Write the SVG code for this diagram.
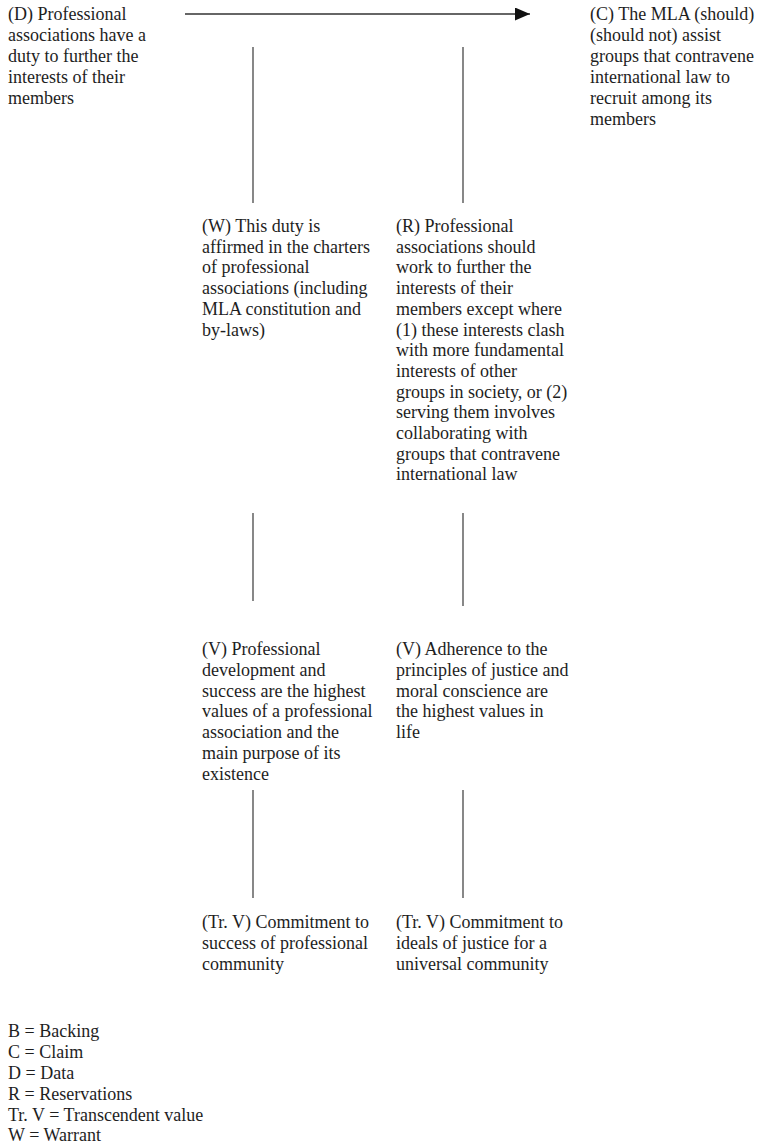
<svg xmlns="http://www.w3.org/2000/svg" width="760" height="1143" viewBox="0 0 760 1143">
<style>
text{font-family:"Liberation Serif","Times New Roman",serif;font-size:18px;fill:#1e1e1e}
.c{stroke:#6a6a6a;stroke-width:1.6;fill:none}
.a{stroke:#333;stroke-width:1.6;fill:none}
</style>
<defs>
<marker id="ah" markerWidth="16" markerHeight="13" refX="15" refY="6.5" orient="auto" markerUnits="userSpaceOnUse">
<path d="M0,0 L15,6.5 L0,13 Z" fill="#111"/>
</marker>
</defs>
<rect width="760" height="1143" fill="#fff"/>
<g id="connectors">
<line class="a" x1="185" y1="14" x2="530" y2="14" marker-end="url(#ah)"/>
<line class="c" x1="253" y1="47" x2="253" y2="203"/>
<line class="c" x1="463" y1="47" x2="463" y2="203"/>
<line class="c" x1="253" y1="513" x2="253" y2="601"/>
<line class="c" x1="463" y1="513" x2="463" y2="606"/>
<line class="c" x1="253" y1="790" x2="253" y2="898"/>
<line class="c" x1="463" y1="790" x2="463" y2="898"/>
</g>
<g id="D">
<text x="8" y="19.5">(D) Professional</text>
<text x="8" y="40.5">associations have a</text>
<text x="8" y="61.5">duty to further the</text>
<text x="8" y="82.5">interests of their</text>
<text x="8" y="103.5">members</text>
</g>
<g id="C">
<text x="590" y="19.5">(C) The MLA (should)</text>
<text x="590" y="40.5">(should not) assist</text>
<text x="590" y="61.5">groups that contravene</text>
<text x="590" y="82.5">international law to</text>
<text x="590" y="103.5">recruit among its</text>
<text x="590" y="124.5">members</text>
</g>
<g id="W">
<text x="202" y="232">(W) This duty is</text>
<text x="202" y="252.7">affirmed in the charters</text>
<text x="202" y="273.4">of professional</text>
<text x="202" y="294.1">associations (including</text>
<text x="202" y="314.8">MLA constitution and</text>
<text x="202" y="335.5">by-laws)</text>
</g>
<g id="R">
<text x="396" y="232">(R) Professional</text>
<text x="396" y="252.7">associations should</text>
<text x="396" y="273.4">work to further the</text>
<text x="396" y="294.1">interests of their</text>
<text x="396" y="314.8">members except where</text>
<text x="396" y="335.5">(1) these interests clash</text>
<text x="396" y="356.2">with more fundamental</text>
<text x="396" y="376.9">interests of other</text>
<text x="396" y="397.6">groups in society, or (2)</text>
<text x="396" y="418.3">serving them involves</text>
<text x="396" y="439">collaborating with</text>
<text x="396" y="459.7">groups that contravene</text>
<text x="396" y="480.4">international law</text>
</g>
<g id="V1">
<text x="202" y="655">(V) Professional</text>
<text x="202" y="675.8">development and</text>
<text x="202" y="696.6">success are the highest</text>
<text x="202" y="717.4">values of a professional</text>
<text x="202" y="738.2">association and the</text>
<text x="202" y="759">main purpose of its</text>
<text x="202" y="779.8">existence</text>
</g>
<g id="V2">
<text x="396" y="655">(V) Adherence to the</text>
<text x="396" y="675.8">principles of justice and</text>
<text x="396" y="696.6">moral conscience are</text>
<text x="396" y="717.4">the highest values in</text>
<text x="396" y="738.2">life</text>
</g>
<g id="TrV1">
<text x="202" y="928">(Tr. V) Commitment to</text>
<text x="202" y="949">success of professional</text>
<text x="202" y="970">community</text>
</g>
<g id="TrV2">
<text x="396" y="928">(Tr. V) Commitment to</text>
<text x="396" y="949">ideals of justice for a</text>
<text x="396" y="970">universal community</text>
</g>
<g id="legend">
<text x="8" y="1037">B = Backing</text>
<text x="8" y="1058">C = Claim</text>
<text x="8" y="1079">D = Data</text>
<text x="8" y="1100">R = Reservations</text>
<text x="8" y="1121">Tr. V = Transcendent value</text>
<text x="8" y="1141">W = Warrant</text>
</g>
</svg>
